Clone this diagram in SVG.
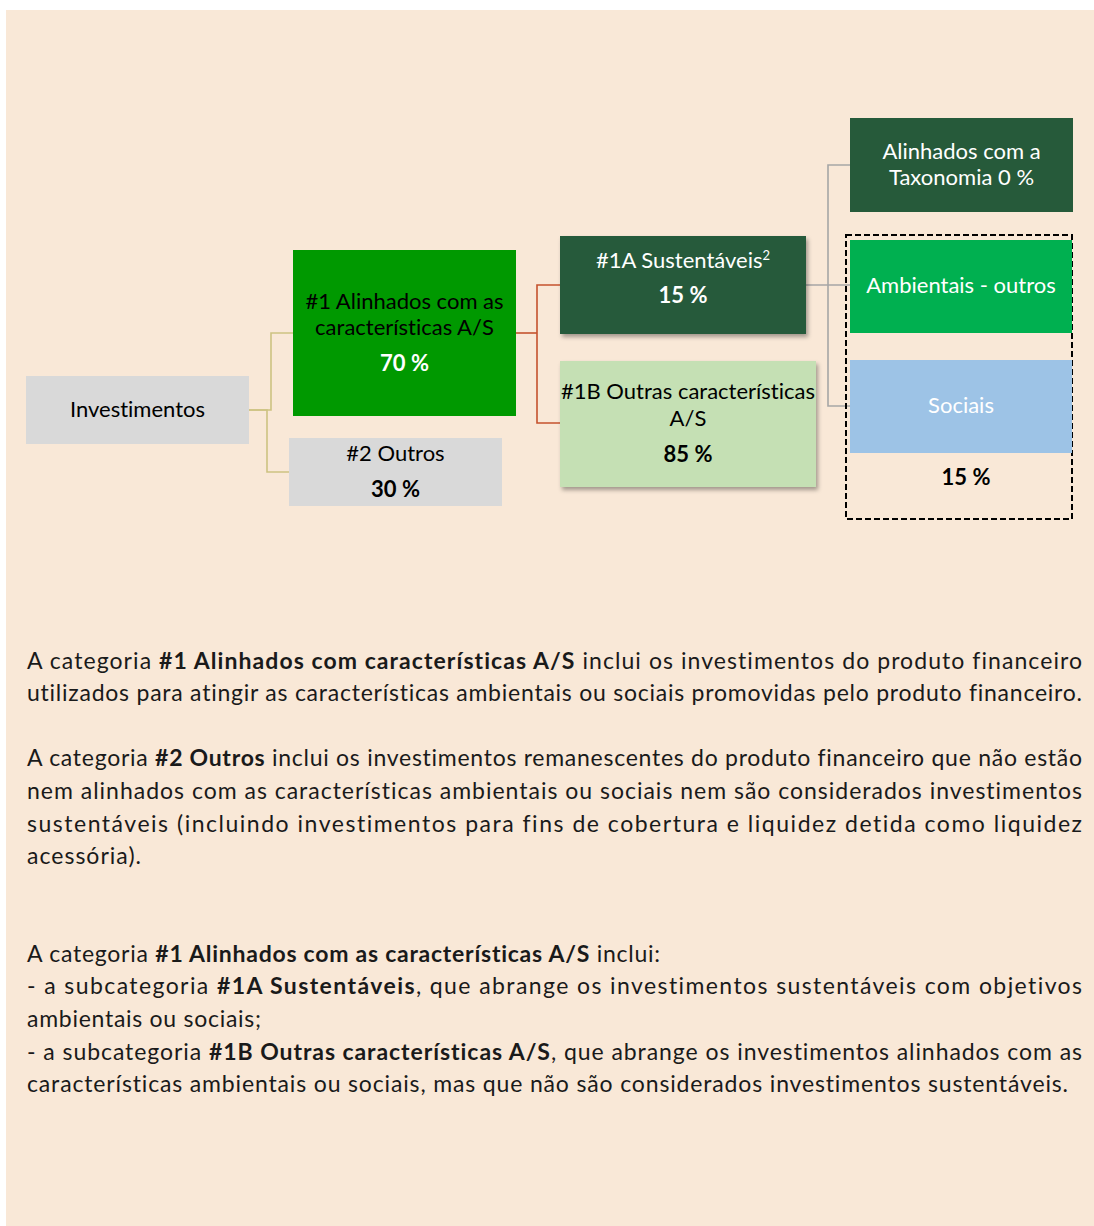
<svg xmlns="http://www.w3.org/2000/svg" width="1094" height="1226" viewBox="0 0 1094 1226">
<defs>
<filter id="sh" x="-10%" y="-10%" width="130%" height="140%">
<feDropShadow dx="2" dy="3" stdDeviation="2" flood-color="#000" flood-opacity="0.35"/>
</filter>
</defs>
<style>
text{font-family:Lato,"Open Sans","Liberation Sans",sans-serif;font-variant-ligatures:none;}
.lbl{font-size:22px;text-anchor:middle;}
.w{fill:#ffffff;}
.k{fill:#000000;}
.b{font-weight:bold;}
.p{font-size:23px;fill:#1a1a1a;}
.c1{fill:none;stroke:#cdc282;stroke-width:1.6;}
.c2{fill:none;stroke:#c5522e;stroke-width:1.6;}
.c3{fill:none;stroke:#a6a6a6;stroke-width:1.6;}
</style>
<rect x="0" y="0" width="1094" height="1226" fill="#ffffff"/>
<rect x="6" y="10" width="1088" height="1216" fill="#f9e8d7"/>

<g id="connectors">
<polyline class="c1" points="249,410 271,410 271,333 293,333"/>
<polyline class="c1" points="249,410 267,410 267,472 289,472"/>
<polyline class="c2" points="516,333 537,333"/>
<polyline class="c2" points="560,285 537,285 537,423 560,423"/>
<polyline class="c3" points="806,285 850,285"/>
<polyline class="c3" points="850,165 828,165 828,406 850,406"/>
</g>

<g id="investimentos">
<rect x="26" y="376" width="223" height="68" fill="#d9d9d9"/>
<text class="lbl k" x="137.5" y="417">Investimentos</text>
</g>

<g id="n1">
<rect x="293" y="250" width="223" height="166" fill="#009900"/>
<text class="lbl k" x="404.5" y="309">#1 Alinhados com as</text>
<text class="lbl k" x="404.5" y="335">características A/S</text>
<text class="lbl w b" x="404.5" y="371">70 %</text>
</g>

<g id="n2">
<rect x="289" y="438" width="213" height="68" fill="#d9d9d9"/>
<text class="lbl k" x="395.5" y="461">#2 Outros</text>
<text class="lbl k b" x="395.5" y="497">30 %</text>
</g>

<g id="n1a">
<rect x="560" y="236" width="246" height="98" fill="#265a3a" filter="url(#sh)"/>
<text class="lbl w" x="683" y="268">#1A Sustentáveis<tspan font-size="13" dy="-8">2</tspan></text>
<text class="lbl w b" x="683" y="303">15 %</text>
</g>

<g id="n1b">
<rect x="560" y="361" width="256" height="126" fill="#c5e0b4" filter="url(#sh)"/>
<text class="lbl k" x="688" y="399">#1B Outras características</text>
<text class="lbl k" x="688" y="426">A/S</text>
<text class="lbl k b" x="688" y="462">85 %</text>
</g>

<g id="taxonomia">
<rect x="850" y="118" width="223" height="94" fill="#265a3a"/>
<text class="lbl w" x="961.5" y="159">Alinhados com a</text>
<text class="lbl w" x="961.5" y="185">Taxonomia 0 %</text>
</g>

<g id="grupo-15">
<rect x="846" y="235" width="226" height="284" fill="none" stroke="#000" stroke-width="2" stroke-dasharray="6 3"/>
<text class="lbl k b" x="966" y="485">15 %</text>
</g>

<g id="ambientais">
<rect x="850" y="240" width="222" height="93" fill="#00b050"/>
<text class="lbl w" x="961" y="293">Ambientais - outros</text>
</g>

<g id="sociais">
<rect x="850" y="360" width="222" height="93" fill="#9dc3e6"/>
<text class="lbl w" x="961" y="413">Sociais</text>
</g>

<g id="texto">
<text class="p" x="27" y="669" textLength="1055" lengthAdjust="spacing">A categoria <tspan class="b">#1 Alinhados com características A/S</tspan> inclui os investimentos do produto financeiro</text>
<text class="p" x="27" y="701" textLength="1055" lengthAdjust="spacing">utilizados para atingir as características ambientais ou sociais promovidas pelo produto financeiro.</text>
<text class="p" x="27" y="766" textLength="1055" lengthAdjust="spacing">A categoria <tspan class="b">#2 Outros</tspan> inclui os investimentos remanescentes do produto financeiro que não estão</text>
<text class="p" x="27" y="799" textLength="1055" lengthAdjust="spacing">nem alinhados com as características ambientais ou sociais nem são considerados investimentos</text>
<text class="p" x="27" y="832" textLength="1055" lengthAdjust="spacing">sustentáveis (incluindo investimentos para fins de cobertura e liquidez detida como liquidez</text>
<text class="p" x="27" y="864" textLength="114" lengthAdjust="spacing">acessória).</text>
<text class="p" x="27" y="962" textLength="633" lengthAdjust="spacing">A categoria <tspan class="b">#1 Alinhados com as características A/S</tspan> inclui:</text>
<text class="p" x="27" y="994" textLength="1055" lengthAdjust="spacing">- a subcategoria <tspan class="b">#1A Sustentáveis</tspan>, que abrange os investimentos sustentáveis com objetivos</text>
<text class="p" x="27" y="1027" textLength="234" lengthAdjust="spacing">ambientais ou sociais;</text>
<text class="p" x="27" y="1060" textLength="1055" lengthAdjust="spacing">- a subcategoria <tspan class="b">#1B Outras características A/S</tspan>, que abrange os investimentos alinhados com as</text>
<text class="p" x="27" y="1092" textLength="1041" lengthAdjust="spacing">características ambientais ou sociais, mas que não são considerados investimentos sustentáveis.</text>
</g>
</svg>
